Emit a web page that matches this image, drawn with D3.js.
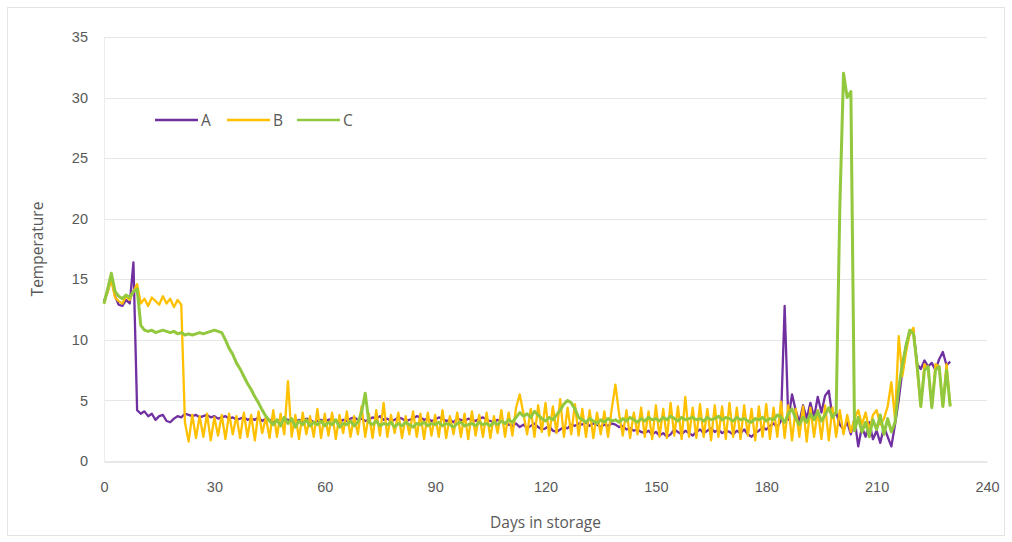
<!DOCTYPE html>
<html>
<head>
<meta charset="utf-8">
<script src="https://cdn.jsdelivr.net/npm/d3@7/dist/d3.min.js"></script>
<style>
  html, body { margin: 0; padding: 0; background: #fff; }
  svg { display: block; font-family: "Open Sans", "Noto Sans", sans-serif; }
</style>
</head>
<body>
<svg id="chart" width="1012" height="542"></svg>
<script>
// Daily temperature readings for three storage units, day 0 to day 230
const seriesNames = ["A", "B", "C"];
const seriesColors = ["#7030a0", "#ffc000", "#92c83e"];

const tempA = [
  13.2,14.0,15.2,13.6,12.9,12.8,13.3,13.0,16.4,4.2,
  3.9,4.1,3.7,3.9,3.4,3.7,3.8,3.3,3.2,3.5,
  3.7,3.6,3.9,3.8,3.7,3.8,3.6,3.7,3.8,3.6,
  3.7,3.5,3.6,3.7,3.5,3.6,3.4,3.5,3.6,3.4,
  3.5,3.4,3.6,3.3,3.5,3.4,3.2,3.3,3.4,3.5,
  3.4,3.3,3.2,3.4,3.3,3.5,3.4,3.2,3.3,3.4,
  3.3,3.4,3.5,3.3,3.2,3.4,3.3,3.5,3.6,3.4,
  3.5,3.3,3.4,3.6,3.5,3.7,3.4,3.5,3.3,3.4,
  3.6,3.5,3.3,3.4,3.5,3.7,3.6,3.4,3.5,3.3,
  3.4,3.6,3.5,3.3,3.4,3.2,3.5,3.4,3.3,3.5,
  3.4,3.3,3.5,3.6,3.4,3.3,3.2,3.4,3.3,3.1,
  3.0,2.9,3.1,2.8,3.0,2.7,2.9,3.1,2.8,2.6,
  2.7,2.9,2.5,2.4,2.6,2.8,2.7,3.0,2.9,3.1,
  3.0,3.2,2.9,3.1,3.0,2.8,3.0,2.9,3.1,3.0,
  2.8,2.9,2.6,2.7,2.5,2.6,2.4,2.3,2.5,2.2,
  2.4,2.1,2.3,2.0,2.2,2.6,2.4,2.2,2.5,2.3,
  2.1,2.4,2.6,2.3,2.5,2.7,2.4,2.6,2.3,2.5,
  2.4,2.2,2.5,2.3,2.6,2.2,2.0,2.3,2.5,2.8,
  2.6,2.9,3.1,2.8,3.3,12.8,3.4,5.5,4.2,3.2,
  4.6,3.5,4.8,3.6,5.3,4.0,5.4,5.8,3.6,4.0,
  3.0,2.6,3.2,2.2,3.5,1.2,2.8,2.0,3.2,1.8,
  2.5,1.5,2.8,2.0,1.2,3.0,5.0,7.5,9.6,10.5,
  10.8,8.0,7.6,8.3,7.8,8.1,7.5,8.4,9.0,7.9,8.2
];

const tempB = [
  13.0,14.0,14.9,13.5,13.2,13.0,13.6,13.3,14.0,14.6,
  13.0,13.4,12.8,13.5,13.2,12.9,13.6,13.0,13.4,12.7,
  13.3,12.9,3.2,1.6,3.8,1.9,3.7,2.0,3.9,1.7,
  3.6,2.1,3.8,1.8,3.9,2.2,3.7,1.9,4.0,2.0,
  3.8,1.7,4.1,2.3,3.6,1.9,4.2,2.0,3.9,2.2,
  6.6,2.0,3.8,1.8,4.0,2.2,3.7,2.0,4.3,1.9,
  3.9,2.1,4.0,1.8,3.8,2.3,4.1,2.0,3.7,2.2,
  4.5,2.0,3.9,1.9,4.2,2.1,4.8,2.0,3.8,2.3,
  4.0,1.9,3.7,2.2,4.1,2.0,3.9,1.8,4.0,2.1,
  3.8,2.0,4.2,1.9,3.7,2.2,4.0,2.0,3.9,1.8,
  4.1,2.1,3.8,2.0,4.0,1.9,3.7,2.3,4.2,2.0,
  4.0,2.1,4.4,5.5,3.9,2.2,4.3,2.0,4.6,2.4,
  4.8,2.1,4.5,2.3,5.1,2.0,4.4,2.2,4.7,2.1,
  4.3,2.0,4.2,1.9,4.0,2.2,4.1,2.0,4.3,6.3,
  3.9,2.1,4.2,1.9,4.0,2.2,4.4,2.0,4.1,1.8,
  4.6,2.0,4.3,1.9,4.8,2.1,4.5,1.8,5.3,2.0,
  4.4,1.9,4.7,2.0,4.3,1.7,4.6,2.0,4.5,1.8,
  4.8,2.0,4.4,1.8,4.6,2.1,4.3,1.7,4.5,2.0,
  4.7,1.8,4.4,2.0,4.9,1.9,4.6,1.7,4.3,2.0,
  4.5,1.6,4.4,2.0,4.2,1.8,4.6,1.7,4.4,2.0,
  4.2,2.2,3.8,2.4,3.5,4.2,3.0,4.0,2.5,3.8,
  4.2,3.0,3.5,4.5,6.5,3.5,10.3,7.0,9.0,10.5,
  11.0,7.5,4.5,8.0,7.5,4.5,8.0,7.8,4.5,8.0,4.6
];

const tempC = [
  13.0,14.2,15.5,14.0,13.6,13.4,13.7,13.5,14.0,14.2,
  11.2,10.8,10.7,10.8,10.6,10.7,10.8,10.7,10.6,10.7,
  10.5,10.6,10.4,10.5,10.4,10.5,10.6,10.5,10.6,10.7,
  10.8,10.7,10.6,10.0,9.3,8.8,8.1,7.6,7.0,6.4,
  5.9,5.3,4.8,4.2,3.7,3.3,3.0,3.4,2.9,3.6,
  3.1,3.5,2.8,3.3,3.0,3.4,2.9,3.2,3.0,3.3,
  2.9,3.2,3.0,3.4,2.8,3.1,3.0,3.3,2.9,3.2,
  4.0,5.6,3.2,3.0,3.3,2.9,3.1,3.0,3.2,2.8,
  3.1,2.9,3.2,3.0,2.8,3.1,3.0,3.2,2.9,3.1,
  3.0,3.2,2.9,3.1,3.0,2.8,3.1,3.2,2.9,3.0,
  3.1,2.9,3.2,3.0,3.1,2.9,3.2,3.0,3.3,3.1,
  3.4,3.2,3.6,4.0,3.7,3.9,3.6,4.1,3.8,3.5,
  3.3,3.6,3.4,3.8,4.2,4.7,5.0,4.8,4.3,3.6,
  3.4,3.2,3.5,3.3,3.1,3.4,3.2,3.5,3.3,3.4,
  3.2,3.5,3.3,3.6,3.4,3.2,3.5,3.3,3.6,3.4,
  3.5,3.3,3.6,3.4,3.7,3.5,3.3,3.6,3.4,3.5,
  3.6,3.4,3.5,3.3,3.6,3.4,3.5,3.7,3.4,3.6,
  3.5,3.3,3.6,3.4,3.5,3.3,3.2,3.5,3.4,3.6,
  3.3,3.5,3.4,3.8,3.6,3.2,3.9,4.3,3.5,3.0,
  3.6,3.2,3.9,3.4,4.1,3.3,3.8,4.4,3.6,4.0,
  21.0,32.0,30.0,30.5,2.5,3.6,2.4,3.2,2.0,3.4,
  2.6,3.8,2.2,3.5,2.4,3.2,6.0,8.0,9.5,10.8,
  10.5,8.0,4.5,7.5,7.8,4.4,7.5,7.8,4.5,7.5,4.5
];

const xTicks = [0, 30, 60, 90, 120, 150, 180, 210, 240];
const yTicks = [0, 5, 10, 15, 20, 25, 30, 35];
const xTitle = "Days in storage";
const yTitle = "Temperature";

const svg = d3.select("#chart");
const W = 1012, H = 542;
const margin = { left: 104, right: 25, top: 37, bottom: 81 };

// chart frame
svg.append("rect")
  .attr("x", 7.5).attr("y", 7.5)
  .attr("width", W - 15).attr("height", H - 14)
  .attr("fill", "#fff").attr("stroke", "#e3e3e3").attr("stroke-width", 1);

const x = d3.scaleLinear().domain([0, 240]).range([margin.left, W - margin.right]);
const y = d3.scaleLinear().domain([0, 35]).range([H - margin.bottom, margin.top]);

// horizontal gridlines
svg.append("g")
  .selectAll("line")
  .data(yTicks.filter(t => t > 0))
  .join("line")
  .attr("x1", x(0)).attr("x2", x(240))
  .attr("y1", d => Math.round(y(d)) + 0.5).attr("y2", d => Math.round(y(d)) + 0.5)
  .attr("stroke", "#e6e6e6").attr("stroke-width", 1);

// y axis (labels only)
const yAxis = d3.axisLeft(y).tickValues(yTicks).tickSize(0).tickPadding(16);
const gy = svg.append("g").attr("transform", `translate(${x(0)},0)`).call(yAxis);
gy.select(".domain").attr("stroke", "#ececec");
gy.selectAll("text").attr("font-size", 14.5).attr("fill", "#595959");

// x axis
const xAxis = d3.axisBottom(x).tickValues(xTicks).tickSize(0).tickPadding(20);
const gx = svg.append("g").attr("transform", `translate(0,${Math.round(y(0)) + 0.5})`).call(xAxis);
gx.select(".domain").attr("stroke", "#d0d0d0");
gx.selectAll("text").attr("font-size", 14.5).attr("fill", "#595959");

// axis titles
svg.append("text")
  .attr("x", (x(0) + x(240)) / 2).attr("y", 528)
  .attr("text-anchor", "middle").attr("font-size", 15.5).attr("fill", "#595959")
  .text(xTitle);
svg.append("text")
  .attr("transform", `translate(43,${(y(0) + y(35)) / 2}) rotate(-90)`)
  .attr("text-anchor", "middle").attr("font-size", 15.5).attr("fill", "#595959")
  .text(yTitle);

// series lines
const allSeries = [tempA, tempB, tempC];
const line = d3.line().x((d, i) => x(i)).y(d => y(d)).curve(d3.curveLinear);
const widths = [2.3, 2.3, 3.0];

svg.append("g")
  .selectAll("path")
  .data(allSeries)
  .join("path")
  .attr("d", d => line(d))
  .attr("fill", "none")
  .attr("stroke", (d, i) => seriesColors[i])
  .attr("stroke-width", (d, i) => widths[i])
  .attr("stroke-linejoin", "round");

// legend
const legendX = [155, 227, 297];
const legend = svg.append("g");
seriesNames.forEach((name, i) => {
  const g = legend.append("g").attr("transform", `translate(${legendX[i]},120)`);
  g.append("line").attr("x1", 0).attr("x2", 43).attr("y1", 0).attr("y2", 0)
    .attr("stroke", seriesColors[i]).attr("stroke-width", 2.5);
  g.append("text").attr("x", 46).attr("y", 5.5)
    .attr("font-size", 15.5).attr("fill", "#595959").text(name);
});
</script>
</body>
</html>
